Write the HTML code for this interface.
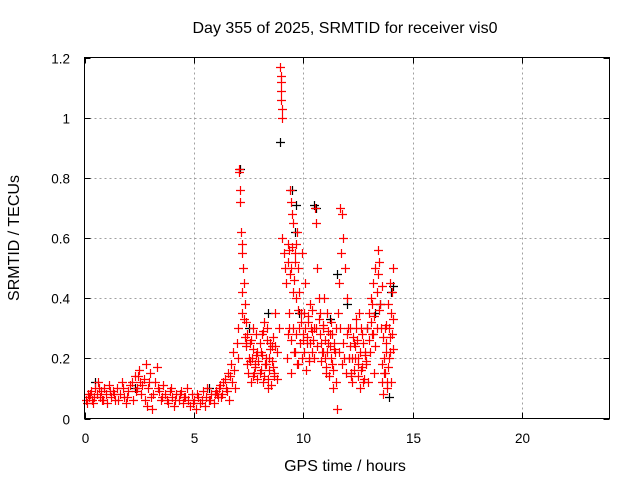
<!DOCTYPE html>
<html><head><meta charset="utf-8"><style>
html,body{margin:0;padding:0;background:#fff;}
svg{display:block;font-family:"Liberation Sans",sans-serif;}
</style></head><body>
<svg id="chart" width="640" height="480" xmlns="http://www.w3.org/2000/svg">
<text x="345" y="33" font-size="16" text-anchor="middle">Day 355 of 2025, SRMTID for receiver vis0</text>
<text x="19" y="238" font-size="16" text-anchor="middle" transform="rotate(-90 19 238)">SRMTID / TECUs</text>
<text x="345" y="471" font-size="16" text-anchor="middle">GPS time / hours</text>
<g id="grid"></g>
<g id="axes"></g>
<g id="black-series"></g>
<g id="red-series"></g>
<rect x="84.5" y="57.5" width="525" height="361" fill="none" stroke="#000" stroke-width="1"/>
</svg>
<script>
const xTicks = [0,5,10,15,20];
const yTicks = [0,0.2,0.4,0.6,0.8,1,1.2];
const yTickLabels = ["0","0.2","0.4","0.6","0.8","1","1.2"];
const redHours = [
0.05,0.1,0.15,0.2,0.3,0.35,0.4,0.5,0.55,0.6,
0.7,0.75,0.8,0.9,1.0,1.05,1.1,1.2,1.3,1.4,
1.5,1.6,1.7,1.8,1.9,2.0,2.1,2.2,2.3,2.4,
2.5,2.55,2.6,2.7,2.8,2.85,2.9,3.0,3.05,3.1,
3.2,3.3,3.4,3.5,3.6,3.7,3.8,3.9,4.0,4.1,
4.2,4.3,4.4,4.5,4.6,4.7,4.8,4.9,5.0,5.1,
5.2,5.3,5.4,5.5,5.6,5.7,5.8,5.9,6.0,6.1,
6.2,6.3,6.4,6.5,6.55,6.6,6.7,6.75,6.8,6.9,
6.95,7.0,7.05,7.08,7.1,7.12,7.15,7.18,7.2,7.25,
7.3,7.35,7.4,7.45,7.5,7.55,7.6,7.7,7.8,7.9,
8.0,8.1,8.2,8.3,8.4,8.5,8.6,8.7,8.8,8.9,
8.95,8.97,8.98,8.99,9.0,9.01,9.02,9.05,9.1,9.15,
9.2,9.3,9.35,9.4,9.45,9.5,9.55,9.6,9.65,9.7,
9.75,9.8,9.85,9.9,9.95,10.0,10.1,10.2,10.3,10.4,
10.5,10.55,10.6,10.65,10.7,10.8,10.9,11.0,11.1,11.2,
11.3,11.4,11.5,11.55,11.6,11.65,11.7,11.75,11.8,11.9,
12.0,12.05,12.1,12.2,12.3,12.4,12.5,12.6,12.7,12.8,
12.9,13.0,13.1,13.2,13.3,13.4,13.45,13.5,13.55,13.6,
13.65,13.7,13.75,13.8,13.85,13.9,13.95,14.0,14.05,14.1,
7.65,7.75,7.85,8.05,8.15,8.25,8.35,8.45,8.55,8.65,
9.25,9.32,9.42,9.52,9.62,9.72,9.82,9.92,10.05,10.15,
10.25,10.35,10.45,10.75,10.85,10.95,11.05,11.15,11.25,11.35,
11.45,11.85,11.95,12.15,12.25,12.35,12.45,12.55,12.65,12.75,
12.85,12.95,13.05,13.15,13.25,13.35,13.62,13.72,13.82,13.92,
0.25,0.45,0.65,0.85,1.15,1.35,1.55,1.75,1.95,2.15,
2.35,2.45,2.65,2.75,2.95,3.15,3.35,3.55,3.75,3.95,
4.15,4.35,4.55,4.75,4.95,5.15,5.35,5.55,5.75,5.95,
6.05,6.15,6.25,6.35,6.45,6.65,6.85,7.0,7.2,7.4,
7.22,7.28,7.33,7.38,7.43,7.48,7.58,7.62,7.68,7.72,
7.78,7.82,7.88,7.95,8.02,8.08,8.12,8.18,8.22,8.28,
8.32,8.38,8.42,8.48,8.52,8.58,8.62,8.68,8.72,8.78,
9.28,9.34,9.38,9.44,9.48,9.54,9.58,9.64,9.68,9.74,
9.36,9.46,9.56,9.66,9.78,9.88,9.98,10.02,10.08,10.12,
10.18,10.22,10.28,10.32,10.38,10.42,10.48,10.58,10.62,10.72,
10.78,10.82,10.88,10.92,10.98,11.02,11.08,11.12,11.18,11.22,
11.28,11.32,11.38,11.42,11.48,11.62,11.68,11.72,11.78,11.82,
12.02,12.08,12.12,12.18,12.22,12.28,12.32,12.38,12.42,12.48,
12.52,12.58,12.62,12.68,12.72,12.78,12.82,12.88,13.02,13.08,
13.12,13.18,13.22,13.28,13.38,13.42,13.48,13.58,13.68,13.78,
13.88,13.98,14.02,14.08,14.12,13.66,13.76,13.86,13.96,14.06
];
const redValues = [
0.06,0.05,0.08,0.07,0.09,0.06,0.05,0.1,0.08,0.12,
0.07,0.09,0.06,0.1,0.08,0.05,0.11,0.07,0.09,0.06,
0.1,0.08,0.12,0.07,0.05,0.09,0.11,0.06,0.14,0.1,
0.16,0.12,0.08,0.13,0.18,0.04,0.1,0.15,0.07,0.03,
0.12,0.17,0.09,0.06,0.11,0.08,0.05,0.09,0.07,0.04,
0.08,0.06,0.09,0.05,0.07,0.1,0.04,0.08,0.06,0.03,
0.07,0.05,0.09,0.04,0.1,0.06,0.08,0.05,0.09,0.07,
0.11,0.08,0.13,0.09,0.15,0.06,0.18,0.12,0.22,0.1,
0.25,0.3,0.83,0.82,0.76,0.72,0.62,0.58,0.55,0.5,
0.45,0.38,0.32,0.28,0.2,0.25,0.12,0.3,0.18,0.22,
0.15,0.28,0.32,0.2,0.1,0.25,0.17,0.35,0.22,0.3,
1.17,1.14,1.12,1.09,1.06,1.03,1.0,0.6,0.55,0.5,
0.45,0.58,0.35,0.76,0.72,0.68,0.65,0.55,0.4,0.62,
0.5,0.3,0.25,0.35,0.2,0.28,0.45,0.32,0.38,0.22,
0.3,0.7,0.65,0.5,0.4,0.25,0.3,0.2,0.35,0.28,
0.18,0.25,0.12,0.03,0.35,0.45,0.7,0.68,0.6,0.5,
0.4,0.3,0.2,0.15,0.25,0.33,0.18,0.1,0.28,0.22,
0.3,0.35,0.4,0.45,0.5,0.56,0.52,0.38,0.3,0.12,
0.08,0.2,0.15,0.25,0.1,0.3,0.22,0.35,0.42,0.5,
0.2,0.15,0.28,0.22,0.12,0.18,0.3,0.16,0.24,0.14,
0.2,0.28,0.15,0.3,0.22,0.18,0.42,0.55,0.35,0.25,
0.2,0.3,0.26,0.35,0.22,0.4,0.15,0.25,0.32,0.1,
0.22,0.2,0.15,0.3,0.12,0.2,0.26,0.35,0.16,0.12,
0.18,0.12,0.22,0.28,0.15,0.42,0.18,0.3,0.12,0.2,
0.08,0.07,0.1,0.06,0.09,0.08,0.06,0.1,0.07,0.12,
0.09,0.14,0.11,0.06,0.12,0.08,0.1,0.07,0.06,0.1,
0.06,0.08,0.07,0.06,0.05,0.08,0.06,0.07,0.06,0.08,
0.08,0.1,0.07,0.12,0.1,0.14,0.16,0.2,0.35,0.25,
0.42,0.33,0.27,0.24,0.18,0.15,0.19,0.26,0.14,0.23,
0.17,0.21,0.13,0.19,0.25,0.16,0.21,0.29,0.14,0.18,
0.26,0.13,0.2,0.23,0.11,0.19,0.27,0.15,0.24,0.13,
0.52,0.56,0.48,0.5,0.57,0.42,0.46,0.52,0.58,0.36,
0.3,0.26,0.22,0.28,0.18,0.32,0.26,0.22,0.3,0.16,
0.27,0.34,0.19,0.25,0.29,0.36,0.2,0.3,0.24,0.33,
0.28,0.19,0.22,0.31,0.26,0.17,0.22,0.29,0.14,0.24,
0.2,0.28,0.16,0.23,0.3,0.22,0.3,0.55,0.18,0.25,
0.28,0.2,0.24,0.14,0.2,0.27,0.16,0.24,0.3,0.2,
0.14,0.22,0.3,0.17,0.25,0.13,0.21,0.19,0.26,0.32,
0.38,0.28,0.34,0.24,0.3,0.48,0.36,0.44,0.15,0.22,
0.17,0.27,0.12,0.33,0.23,0.27,0.31,0.38,0.45,0.28
];
const blackHours = [7.1,8.95,9.5,9.6,10.5,11.55,12.0,13.3,13.9,14.1,0.5,2.3,5.7,7.5,9.8,9.65,10.6,11.2,12.9,13.5,8.4,14.0];
const blackValues = [0.83,0.92,0.76,0.62,0.71,0.48,0.38,0.35,0.07,0.44,0.12,0.1,0.1,0.3,0.35,0.71,0.7,0.33,0.3,0.38,0.35,0.42];

const NS = "http://www.w3.org/2000/svg";
const X0 = 84.5, X1 = 609.5, Y0 = 418.5, Y1 = 57.5;
const xMax = 24, yMax = 1.2;
function xs(v){ return X0 + (v / xMax) * (X1 - X0); }
function ys(v){ return Y0 - (v / yMax) * (Y0 - Y1); }
function mk(tag, attrs, parent){
  const e = document.createElementNS(NS, tag);
  for (const k in attrs) e.setAttribute(k, attrs[k]);
  parent.appendChild(e);
  return e;
}
const grid = document.getElementById('grid');
const axes = document.getElementById('axes');
xTicks.forEach(function(t){
  const x = Math.round(xs(t)) + 0.5;
  if (t > 0) {
    const g = mk('line', {x1:x, x2:x, y1:Y1, y2:Y0, stroke:'#a0a0a0', 'stroke-dasharray':'2,3', 'stroke-width':1}, grid);
    
    
  }
  const tk = mk('line', {x1:x, x2:x, y1:Y0, y2:Y0-6, stroke:'#000'}, axes);
  
  
  const tk2 = mk('line', {x1:x, x2:x, y1:Y1, y2:Y1+6, stroke:'#000'}, axes);
  
  
  const lb = mk('text', {x:x, y:443, 'font-size':13.5, 'text-anchor':'middle', fill:'#000'}, axes);
  lb.textContent = String(t);
  
  
});
yTicks.forEach(function(t, i){
  const y = Math.round(ys(t)) + 0.5;
  if (t > 0 && t < yMax) {
    const g = mk('line', {x1:X0, x2:X1, y1:y, y2:y, stroke:'#a0a0a0', 'stroke-dasharray':'2,3', 'stroke-width':1}, grid);
    
    
  }
  const tk = mk('line', {x1:X0, x2:X0+6, y1:y, y2:y, stroke:'#000'}, axes);
  
  
  const tk2 = mk('line', {x1:X1, x2:X1-6, y1:y, y2:y, stroke:'#000'}, axes);
  
  
  const lb = mk('text', {x:70, y:y+5, 'font-size':13.5, 'text-anchor':'end', fill:'#000'}, axes);
  lb.textContent = yTickLabels[i];
  
  
});
function plus(parent, t, v, color){
  const x = Math.round(xs(t)) + 0.5, y = Math.round(ys(v)) + 0.5;
  const p = mk('path', {d:'M'+(x-4.5)+' '+y+'H'+(x+4.5)+'M'+x+' '+(y-4.5)+'V'+(y+4.5), stroke:color, 'stroke-width':1.2, fill:'none'}, parent);
  
  
}
const bg = document.getElementById('black-series');
blackHours.forEach(function(t, i){ plus(bg, t, blackValues[i], '#000'); });
const rg = document.getElementById('red-series');
redHours.forEach(function(t, i){ plus(rg, t, redValues[i], '#ff0000'); });
</script>
</body></html>
